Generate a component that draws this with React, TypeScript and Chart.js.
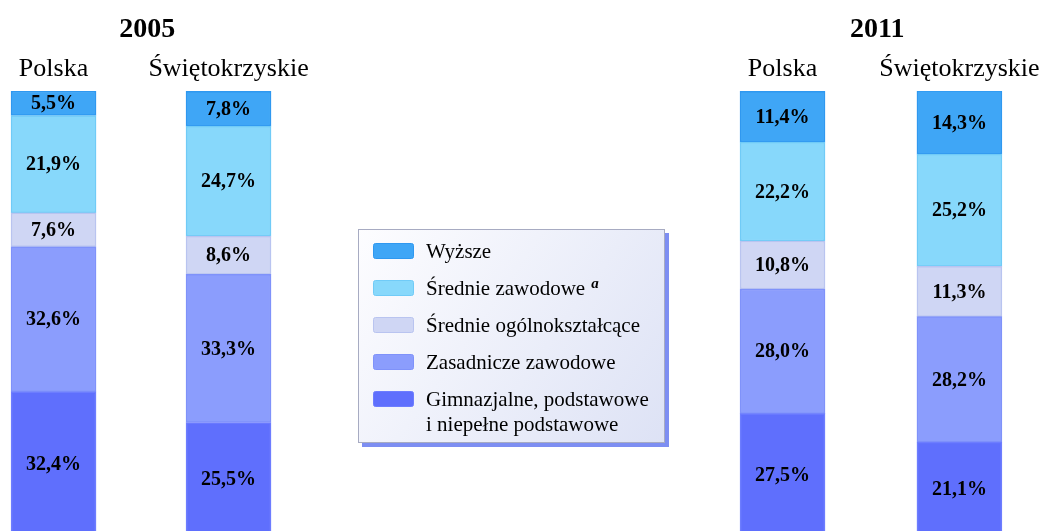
import React, { useEffect, useRef } from "react";
import { Chart, registerables } from "chart.js";

Chart.register(...registerables);

const regions = ["Polska", "Świętokrzyskie", "Polska", "Świętokrzyskie"];
const years = ["2005", "2011"];
const barPositions = [0, 1, 4.166, 5.177];

const gimnazjalne = [32.4, 25.5, 27.5, 21.1];
const zasadnicze = [32.6, 33.3, 28.0, 28.2];
const ogolnoksztalcace = [7.6, 8.6, 10.8, 11.3];
const srednieZawodowe = [21.9, 24.7, 22.2, 25.2];
const wyzsze = [5.5, 7.8, 11.4, 14.3];

const seriesLabels = [
  ["Gimnazjalne, podstawowe", "i niepełne podstawowe"],
  ["Zasadnicze zawodowe"],
  ["Średnie ogólnokształcące"],
  ["Średnie zawodowe"],
  ["Wyższe"],
];
const seriesNotes = ["", "", "", "a", ""];
const seriesColors = ["#5f6ffd", "#8b9dfd", "#cfd6f4", "#87d8fb", "#3fa6f6"];
const seriesBorders = ["#6d7dff", "#7f92fa", "#b9c4f0", "#70cbf7", "#2f98f0"];

const SERIF = '"Liberation Serif", "Times New Roman", serif';

export default function App() {
  const ref = useRef<HTMLCanvasElement | null>(null);

  useEffect(() => {
    const canvas = ref.current;
    if (!canvas) return;
    const seriesValues = [gimnazjalne, zasadnicze, ogolnoksztalcace, srednieZawodowe, wyzsze];

    const overlay = {
      id: "overlay",
      afterDatasetsDraw(chart: any) {
        const ctx = chart.ctx as CanvasRenderingContext2D;
        const xs = chart.scales.x;
        ctx.save();
        // value labels
        ctx.fillStyle = "#000";
        ctx.font = `bold 20px ${SERIF}`;
        ctx.textAlign = "center";
        ctx.textBaseline = "middle";
        chart.data.datasets.forEach((ds: any, di: number) => {
          const meta = chart.getDatasetMeta(di);
          meta.data.forEach((el: any, i: number) => {
            const v = ds.data[i].y as number;
            const yc = (el.y + el.base) / 2;
            ctx.fillText(v.toFixed(1).replace(".", ",") + "%", el.x, yc + 1);
          });
        });
        // region headers
        ctx.textBaseline = "alphabetic";
        ctx.font = `26px ${SERIF}`;
        regions.forEach((r, i) => {
          ctx.fillText(r, xs.getPixelForValue(barPositions[i]), 76);
        });
        // year headers
        ctx.font = `bold 28px ${SERIF}`;
        years.forEach((y, g) => {
          const a = xs.getPixelForValue(barPositions[g * 2]);
          const b = xs.getPixelForValue(barPositions[g * 2 + 1]);
          ctx.fillText(y, a + (b - a) * 0.535, 37);
        });

        // legend box
        const bx = 358, by = 229, bw = 307, bh = 214;
        ctx.fillStyle = "#7d8ef2";
        ctx.fillRect(bx + 4, by + 4, bw, bh);
        const grad = ctx.createLinearGradient(bx, by, bx + bw, by + bh);
        grad.addColorStop(0, "#fdfdff");
        grad.addColorStop(1, "#dde2f5");
        ctx.fillStyle = grad;
        ctx.fillRect(bx, by, bw, bh);
        ctx.strokeStyle = "#a7abc2";
        ctx.lineWidth = 1;
        ctx.strokeRect(bx + 0.5, by + 0.5, bw - 1, bh - 1);

        ctx.textAlign = "left";
        const order = [4, 3, 2, 1, 0];
        order.forEach((si, row) => {
          const base = 258 + row * 37;
          ctx.fillStyle = seriesColors[si];
          ctx.strokeStyle = seriesBorders[si];
          ctx.beginPath();
          (ctx as any).roundRect(373.5, base - 14.5, 40, 15, 2);
          ctx.fill();
          ctx.stroke();
          ctx.fillStyle = "#000";
          ctx.font = `21px ${SERIF}`;
          seriesLabels[si].forEach((line, li) => {
            ctx.fillText(line, 426, base + li * 25);
          });
          if (seriesNotes[si]) {
            const w = ctx.measureText(seriesLabels[si][0]).width;
            ctx.font = `italic bold 15px ${SERIF}`;
            ctx.fillText(seriesNotes[si], 426 + w + 6, base - 7);
          }
        });
        ctx.restore();
      },
    };

    const chart = new Chart(canvas, {
      type: "bar",
      data: {
        datasets: seriesValues.map((vals, si) => ({
          label: seriesLabels[si].join(" "),
          data: vals.map((v, i) => ({ x: barPositions[i], y: v })),
          backgroundColor: seriesColors[si],
          borderColor: seriesBorders[si],
          borderWidth: 1.5,
          borderSkipped: false,
          barThickness: 85,
        })),
      },
      options: {
        responsive: false,
        animation: false,
        layout: { padding: { top: 91, left: 0, right: 0, bottom: 0 } },
        plugins: { legend: { display: false }, tooltip: { enabled: false } },
        scales: {
          x: { type: "linear", stacked: true, display: false, offset: false, bounds: "ticks", min: -0.306, max: 5.666 },
          y: { stacked: true, display: false, min: 0, max: 100 },
        },
      },
      plugins: [overlay],
    } as any);
    return () => chart.destroy();
  }, []);

  return (
    <div style={{ position: "fixed", left: 0, top: 0, width: 1045, height: 531, overflow: "hidden", background: "#fff" }}>
      <canvas ref={ref} width={1045} height={536} style={{ display: "block" }} />
    </div>
  );
}
